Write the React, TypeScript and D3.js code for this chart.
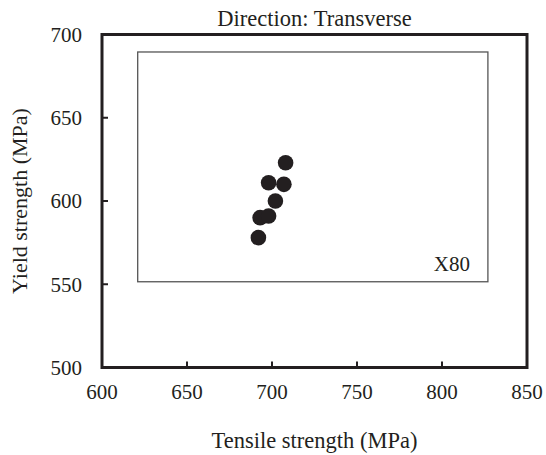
import * as d3 from "d3";
import React, { useEffect, useRef } from "react";

// tensile strength (MPa) vs yield strength (MPa), X80 pipe, transverse
const tensile = [708, 698, 707, 702, 693, 698, 692];
const yieldStr = [623, 611, 610, 600, 590, 591, 578];
const xTicks = [600, 650, 700, 750, 800, 850];
const yTicks = [500, 550, 600, 650, 700];
const title = "Direction: Transverse";
const xTitle = "Tensile strength (MPa)";
const yTitle = "Yield strength (MPa)";
const gradeLabel = "X80";

export default function App() {
    const svgRef = useRef<SVGSVGElement>(null);

    useEffect(() => {
        const svg = d3.select(svgRef.current);
        const width = 546;
        const height = 455;
        const margin = { top: 34.5, right: 19, bottom: 87.5, left: 102 };
        const ink = "#231f20";

        svg.selectAll("*").remove();

        const x = d3
            .scaleLinear()
            .domain([600, 850])
            .range([margin.left, width - margin.right]);

        const y = d3
            .scaleLinear()
            .domain([500, 700])
            .range([height - margin.bottom, margin.top]);

        // inner box (plot area)
        svg.append("rect")
            .attr("x", x(621))
            .attr("y", y(689.5))
            .attr("width", x(827) - x(621))
            .attr("height", y(551.5) - y(689.5))
            .attr("fill", "none")
            .attr("stroke", "#555")
            .attr("stroke-width", 1.3);

        svg.append("text")
            .attr("x", x(827) - 18)
            .attr("y", y(551.5) - 11)
            .attr("text-anchor", "end")
            .attr("font-size", 21)
            .attr("fill", ink)
            .text(gradeLabel);

        // ticks, pointing inwards
        const gx = svg.append("g");
        xTicks.forEach((t) => {
            gx.append("line")
                .attr("x1", x(t))
                .attr("x2", x(t))
                .attr("y1", y(500))
                .attr("y2", y(500) - 6)
                .attr("stroke", ink)
                .attr("stroke-width", 2);
            gx.append("text")
                .attr("x", x(t))
                .attr("y", y(500) + 31)
                .attr("text-anchor", "middle")
                .attr("font-size", 21)
                .attr("fill", ink)
                .text(t);
        });

        const gy = svg.append("g");
        yTicks.forEach((t) => {
            gy.append("line")
                .attr("x1", x(600))
                .attr("x2", x(600) + 6)
                .attr("y1", y(t))
                .attr("y2", y(t))
                .attr("stroke", ink)
                .attr("stroke-width", 2);
            gy.append("text")
                .attr("x", x(600) - 20)
                .attr("y", y(t))
                .attr("dy", "0.35em")
                .attr("text-anchor", "end")
                .attr("font-size", 21)
                .attr("fill", ink)
                .text(t);
        });

        // outer frame
        svg.append("rect")
            .attr("x", x(600))
            .attr("y", y(700))
            .attr("width", x(850) - x(600))
            .attr("height", y(500) - y(700))
            .attr("fill", "none")
            .attr("stroke", ink)
            .attr("stroke-width", 3);

        svg.append("g")
            .selectAll("circle")
            .data(tensile)
            .join("circle")
            .attr("cx", (d) => x(d))
            .attr("cy", (d, i) => y(yieldStr[i]))
            .attr("r", 7.8)
            .attr("fill", ink);

        svg.append("text")
            .attr("x", (x(600) + x(850)) / 2)
            .attr("y", 26)
            .attr("text-anchor", "middle")
            .attr("font-size", 22.5)
            .attr("fill", ink)
            .text(title);

        svg.append("text")
            .attr("x", (x(600) + x(850)) / 2)
            .attr("y", 448)
            .attr("text-anchor", "middle")
            .attr("font-size", 22.5)
            .attr("fill", ink)
            .text(xTitle);

        svg.append("text")
            .attr("transform", `translate(27,${(y(500) + y(700)) / 2}) rotate(-90)`)
            .attr("text-anchor", "middle")
            .attr("font-size", 22)
            .attr("fill", ink)
            .text(yTitle);
    }, []);

    return (
        <svg
            ref={svgRef}
            width={546}
            height={455}
            style={{
                position: "absolute",
                left: 0,
                top: 0,
                background: "#fff",
                fontFamily: "'Liberation Serif', 'Times New Roman', Times, serif",
            }}
        ></svg>
    );
}
